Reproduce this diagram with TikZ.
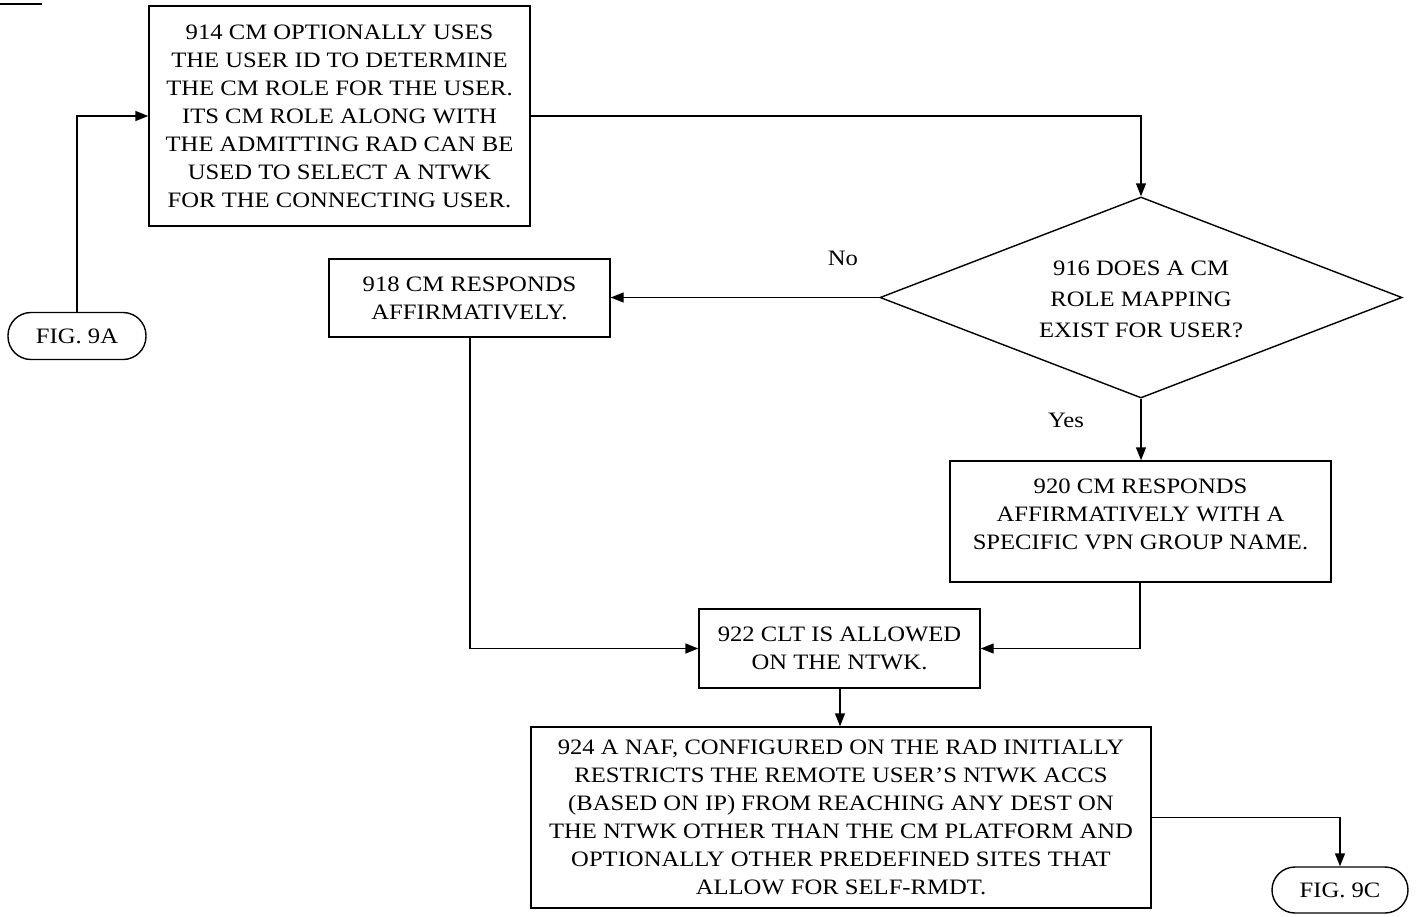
\documentclass[tikz,border=0pt]{standalone}
\usepackage{fontspec}
\setmainfont{Liberation Serif}[FakeStretch=1.12]
\usetikzlibrary{arrows.meta,shapes.geometric}
\begin{document}
\begin{tikzpicture}[x=1pt,y=-1pt,
  line width=1.4pt,
  txt/.style={font=\fontsize{22}{28}\selectfont, align=center, inner sep=0pt},
  box/.style={draw, txt, minimum width=#1},
  term/.style={draw, txt, rounded corners=23pt, minimum height=47pt},
  arr/.style={-{Triangle[length=13pt,width=10pt]}},
  lbl/.style={font=\fontsize{22}{28}\selectfont, inner sep=0pt}]
\useasboundingbox (0,0) rectangle (1416,916);

% stray rule at the upper left
\draw[line width=2pt] (0,4) -- (42,4);

% process boxes
\node[box=381pt, minimum height=220pt] (b914) at (339.5,116)
  {914 CM OPTIONALLY USES\\THE USER ID TO DETERMINE\\THE CM ROLE FOR THE USER.\\ITS CM ROLE ALONG WITH\\THE ADMITTING RAD CAN BE\\USED TO SELECT A NTWK\\FOR THE CONNECTING USER.};
\node[term, minimum width=138pt] (f9a) at (77,336) {FIG. 9A};
\node[draw, diamond, aspect=2.6, minimum width=522pt, minimum height=201pt, inner sep=0pt] (d916) at (1141,297.5) {};
\node[txt, font=\fontsize{22}{31}\selectfont] (t916) at (1141,299) {916 DOES A CM\\ROLE MAPPING\\EXIST FOR USER?};
\node[box=281pt, minimum height=78pt] (b918) at (469.5,298)
  {918 CM RESPONDS\\AFFIRMATIVELY.};
\node[draw, minimum width=381pt, minimum height=121pt, inner sep=0pt] (b920) at (1140.5,521.5) {};
\node[txt] (t920) at (1140.5,514)
  {920 CM RESPONDS\\AFFIRMATIVELY WITH A\\SPECIFIC VPN GROUP NAME.};
\node[box=281pt, minimum height=79pt] (b922) at (839.5,648.5)
  {922 CLT IS ALLOWED\\ON THE NTWK.};
\node[box=620pt, minimum height=181pt] (b924) at (841,817.5)
  {924 A NAF, CONFIGURED ON THE RAD INITIALLY\\RESTRICTS THE REMOTE USER'S NTWK ACCS\\(BASED ON IP) FROM REACHING ANY DEST ON\\THE NTWK OTHER THAN THE CM PLATFORM AND\\OPTIONALLY OTHER PREDEFINED SITES THAT\\ALLOW FOR SELF-RMDT.};
\node[term, minimum width=136pt, minimum height=46pt] (f9c) at (1340,890) {FIG. 9C};

% labels
\node[lbl] (lno) at (843,258) {No};
\node[lbl] (lyes) at (1066,420) {Yes};

% connectors
\draw[arr] (f9a.north) |- (b914.west);
\draw[arr] (b914.east) -| (d916.north);
\draw[arr] (d916.west) -- (b918.east |- d916.west);
\draw[arr] (d916.south) -- (b920.north -| d916.south);
\draw[arr] (b918.south -| 470,0) |- (b922.west);
\draw[arr] (b920.south -| 1140,0) |- (b922.east);
\draw[arr] (b922.south -| 840,0) -- (b924.north -| 840,0);
\draw[arr] (b924.east) -| (f9c.north);
\end{tikzpicture}
\end{document}
